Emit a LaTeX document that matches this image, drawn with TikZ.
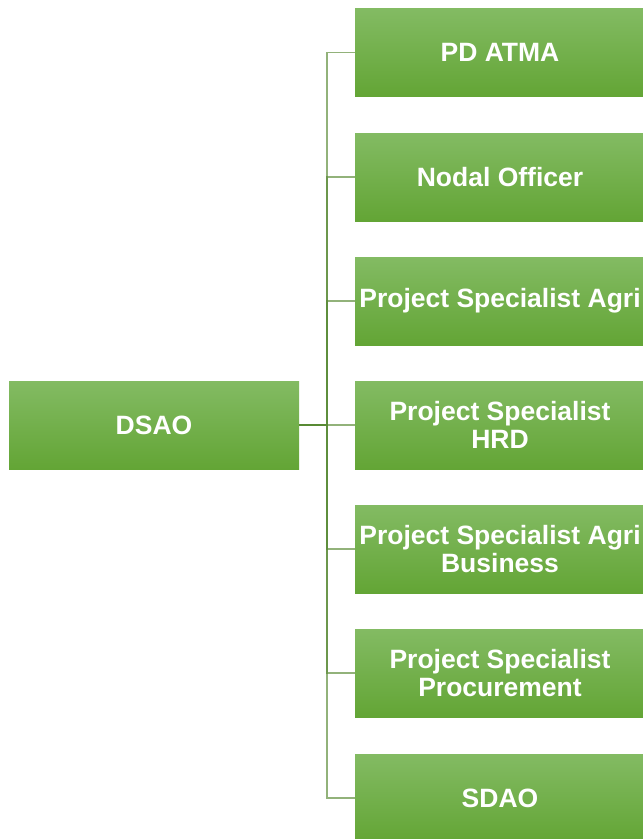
\documentclass[tikz,border=0pt]{standalone}
\usepackage{fontspec}
\setmainfont{Liberation Sans}
\definecolor{gtop}{RGB}{131,187,99}
\definecolor{gbot}{RGB}{99,165,53}
\definecolor{linkc}{RGB}{88,138,52}
\begin{document}
\begin{tikzpicture}[x=1pt,y=1pt,
  box/.style={rectangle, minimum width=290pt, minimum height=88pt, inner sep=0pt,
    top color=gtop, bottom color=gbot, draw=none, text=white, align=center,
    font=\fontsize{26.5}{28}\selectfont\bfseries},
  link/.style={draw=linkc, line width=1.6pt, draw opacity=0.65}]
\useasboundingbox (0,0) rectangle (643,-839);
\clip (0,0) rectangle (643,-839);
\fill[white] (0,0) rectangle (643,-839);
\node[box] (dsao) at (154,-425) {DSAO};
\node[box] (c1) at (500,-52.5) {PD ATMA};
\node[box] (c2) at (500,-177) {Nodal Officer};
\node[box] (c3) at (500,-301) {Project Specialist Agri};
\node[box] (c4) at (500,-425) {Project Specialist\\HRD};
\node[box] (c5) at (500,-549) {Project Specialist Agri\\Business};
\node[box] (c6) at (500,-673) {Project Specialist\\Procurement};
\node[box] (c7) at (500,-798) {SDAO};
\coordinate (bus) at (327,-425);
\foreach \c in {c1,c2,c3,c4,c5,c6,c7}{
  \draw[link] (dsao.east) -- (bus) |- (\c.west);
}
\end{tikzpicture}
\end{document}
